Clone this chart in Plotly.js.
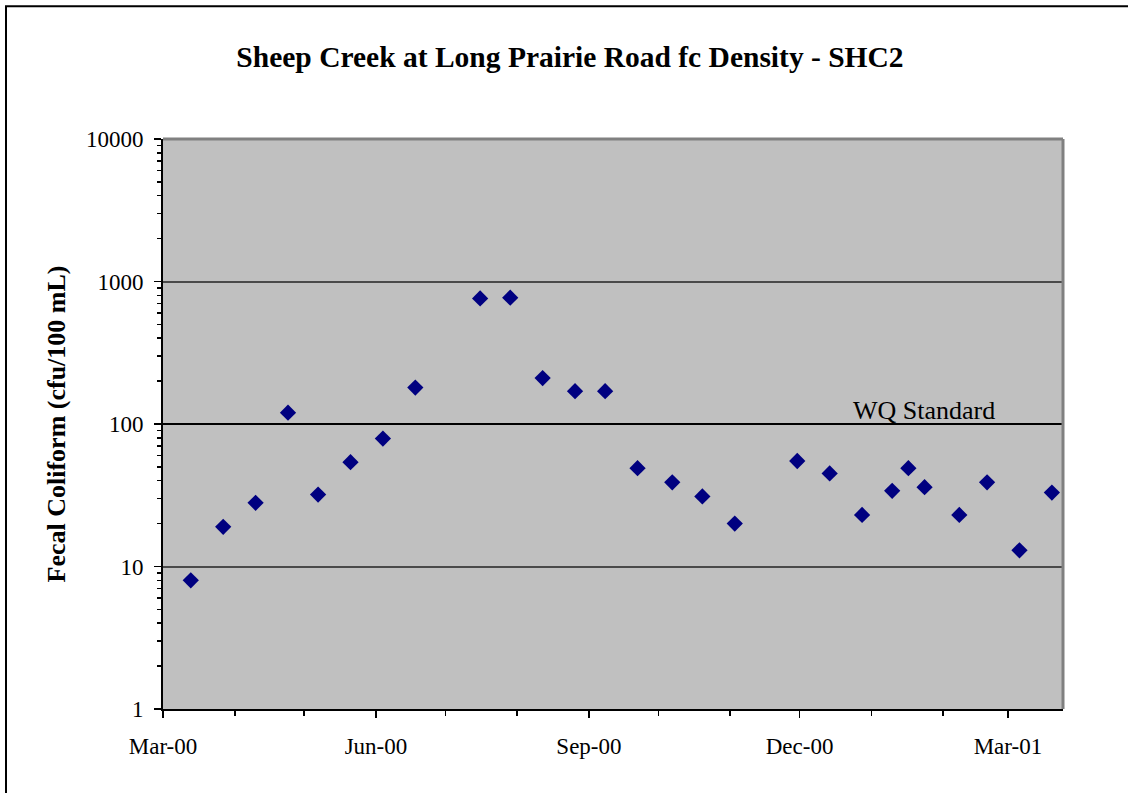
<!DOCTYPE html>
<html>
<head>
<meta charset="utf-8">
<script src="https://cdn.plot.ly/plotly-3.0.1.min.js"></script>
<style>
  html, body { margin: 0; padding: 0; background: #ffffff; }
  #chart { width: 1128px; height: 793px; }
</style>
</head>
<body>
<div id="chart"></div>
<script>
// Sample dates and fecal coliform densities (cfu/100 mL)
var sampleDates = ['2000-03-13','2000-03-27','2000-04-10','2000-04-24','2000-05-07','2000-05-21',
  '2000-06-04','2000-06-18','2000-07-16','2000-07-29','2000-08-12','2000-08-26','2000-09-08',
  '2000-09-22','2000-10-07','2000-10-20','2000-11-03','2000-11-30','2000-12-14','2000-12-28',
  '2001-01-10','2001-01-17','2001-01-24','2001-02-08','2001-02-20','2001-03-06','2001-03-20'];
var fcDensity = [8,19,28,120,32,54,79,180,760,770,210,170,170,49,39,31,20,55,45,23,34,49,36,23,39,13,33];
var wqStandard = 100;
var wqLabel = 'WQ Standard';
var chartTitle = 'Sheep Creek at Long Prairie Road fc Density - SHC2';
var yTitle = 'Fecal Coliform (cfu/100 mL)';
var xRange = ['2000-03-01', '2001-03-24 19:12'];
var yRange = [1, 10000];

var serif = 'Liberation Serif, Times New Roman, serif';

var trace = {
  type: 'scatter',
  mode: 'markers',
  x: sampleDates,
  y: fcDensity,
  marker: { symbol: 'diamond', size: 12.5, color: '#000080', line: { width: 0 } },
  hoverinfo: 'x+y'
};

// paper coordinate helpers for the outer chart border
var L = 163, R = 1063, T = 139, B = 709;
function px(x) { return (x - L) / (R - L); }
function py(y) { return (B - y) / (B - T); }

var layout = {
  width: 1128,
  height: 793,
  margin: { l: L, r: 1128 - R, t: T, b: 793 - B, pad: 0 },
  paper_bgcolor: '#ffffff',
  plot_bgcolor: '#c0c0c0',
  showlegend: false,
  font: { family: serif, color: '#000000', size: 23 },
  title: {
    text: chartTitle,
    font: { family: serif, size: 29.5, weight: 'bold', color: '#000000' },
    xref: 'container', x: 570 / 1128, xanchor: 'center',
    yref: 'container', y: 1 - 57 / 793, yanchor: 'middle'
  },
  xaxis: {
    type: 'date',
    range: xRange,
    tick0: '2000-03-01',
    dtick: 'M3',
    tickformat: '%b-%y',
    ticks: 'outside',
    ticklen: 7,
    tickwidth: 1.5,
    tickcolor: '#000000',
    ticklabelstandoff: 8,
    tickfont: { family: serif, size: 23, color: '#000000' },
    minor: { dtick: 'M1', ticks: 'outside', ticklen: 5, tickwidth: 1.5, tickcolor: '#000000', showgrid: false },
    showgrid: false,
    zeroline: false,
    showline: true,
    linecolor: '#000000',
    linewidth: 2,
    fixedrange: true
  },
  yaxis: {
    type: 'log',
    range: [Math.log10(yRange[0]), Math.log10(yRange[1])],
    dtick: 1,
    tickformat: 'd',
    ticks: 'outside',
    ticklen: 7,
    tickwidth: 1.5,
    tickcolor: '#000000',
    ticklabelstandoff: 6,
    tickfont: { family: serif, size: 23, color: '#000000' },
    minor: { dtick: 'D1', ticks: 'outside', ticklen: 4, tickwidth: 1.5, tickcolor: '#000000', showgrid: false },
    showgrid: true,
    gridcolor: '#4a4a4a',
    gridwidth: 2,
    zeroline: false,
    showline: true,
    linecolor: '#000000',
    linewidth: 2,
    title: {
      text: yTitle,
      font: { family: serif, size: 26, weight: 'bold', color: '#000000' },
      standoff: 13
    },
    fixedrange: true
  },
  shapes: [
    // WQ standard line
    { type: 'line', xref: 'paper', x0: 0, x1: 1, yref: 'y', y0: wqStandard, y1: wqStandard,
      line: { color: '#000000', width: 2 }, layer: 'above' },
    // gray plot border top & right
    { type: 'line', xref: 'paper', yref: 'paper', x0: 0, x1: 1, y0: 1, y1: 1,
      line: { color: '#808080', width: 3 } },
    { type: 'line', xref: 'paper', yref: 'paper', x0: 1, x1: 1, y0: 0, y1: 1,
      line: { color: '#808080', width: 3 } },
    // outer chart border
    { type: 'rect', xref: 'paper', yref: 'paper', x0: px(6), x1: px(1140), y0: py(800), y1: py(6.3),
      line: { color: '#000000', width: 2 }, fillcolor: 'rgba(0,0,0,0)' }
  ],
  annotations: [
    { text: wqLabel, xref: 'paper', x: px(851), xanchor: 'left',
      yref: 'y', y: Math.log10(wqStandard), yanchor: 'bottom', yshift: -3,
      showarrow: false, font: { family: serif, size: 26, color: '#000000' } }
  ]
};

Plotly.newPlot('chart', [trace], layout, { displayModeBar: false, staticPlot: true });
</script>
</body>
</html>
